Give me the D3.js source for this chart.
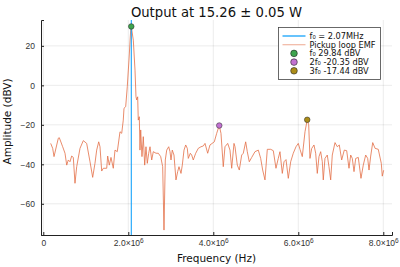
<!DOCTYPE html>
<html>
<head>
<meta charset="utf-8">
<script src="https://cdn.jsdelivr.net/npm/d3@7"></script>
<style>
  body { margin: 0; background: #fff; }
  svg { font-family: "DejaVu Sans", sans-serif; }
</style>
</head>
<body>
<div id="chart"></div>
<script>
// spectrum, frequency in MHz, amplitude in dBV
const freqMHz = [0.174, 0.221, 0.252, 0.353, 0.376, 0.456, 0.511, 0.551, 0.588, 0.628,
  0.668, 0.706, 0.746, 0.786, 0.864, 0.941, 1.021, 1.099, 1.162, 1.216,
  1.256, 1.304, 1.334, 1.374, 1.412, 1.492, 1.515, 1.553, 1.593, 1.647,
  1.687, 1.741, 1.805, 1.845, 1.882, 1.899, 1.939, 1.976, 2.016, 2.056,
  2.07, 2.118, 2.158, 2.181, 2.198, 2.221, 2.235, 2.259, 2.275, 2.292,
  2.322, 2.353, 2.386, 2.416, 2.447, 2.48, 2.511, 2.551, 2.588, 2.652,
  2.706, 2.762, 2.809, 2.84, 2.871, 2.904, 2.951, 2.981, 3.005, 3.035,
  3.075, 3.122, 3.162, 3.193, 3.24, 3.271, 3.311, 3.351, 3.388, 3.412,
  3.459, 3.492, 3.529, 3.586, 3.647, 3.711, 3.765, 3.805, 3.868, 3.922,
  4.024, 4.08, 4.14, 4.181, 4.235, 4.275, 4.339, 4.393, 4.433, 4.487,
  4.511, 4.565, 4.612, 4.668, 4.706, 4.762, 4.8, 4.847, 4.904, 4.981,
  5.059, 5.115, 5.162, 5.216, 5.271, 5.351, 5.412, 5.475, 5.529, 5.569,
  5.624, 5.664, 5.711, 5.765, 5.821, 5.882, 5.946, 6.0, 6.04, 6.094,
  6.158, 6.21, 6.245, 6.275, 6.315, 6.369, 6.409, 6.447, 6.487, 6.527,
  6.565, 6.588, 6.628, 6.682, 6.722, 6.762, 6.8, 6.864, 6.918, 6.965,
  7.021, 7.082, 7.139, 7.193, 7.233, 7.271, 7.311, 7.351, 7.412, 7.475,
  7.529, 7.586, 7.633, 7.664, 7.704, 7.751, 7.807, 7.882, 7.953, 7.976,
  8.009];
const ampDBV = [-29.4, -31.9, -36.1, -26.8, -26.5, -31.1, -34.4, -40.4, -37.8, -38.7,
  -35.8, -36.5, -49.6, -41.2, -31.9, -28, -29.4, -38.7, -46.6, -39.5,
  -32.8, -28.6, -31.1, -43.4, -42, -42, -35.8, -40.4, -36.5, -42,
  -32.8, -33.6, -23.5, -24.3, -17.6, -11.6, -10.8, -0.7, 12.8, 28,
  29.84, 22.9, 7.7, -5.8, -7.4, -5.8, -17.6, -15.9, -32.8, -22.6,
  -36.1, -26, -40.4, -31.1, -39.5, -34.4, -31.1, -37.8, -33.6, -34.4,
  -34.4, -36.1, -41.2, -73.3, -37.8, -32.8, -31.1, -33.6, -37.8, -32.8,
  -35.3, -47.9, -43.7, -41.2, -44.6, -40.4, -32.8, -30.2, -31.9, -37,
  -34.4, -35.3, -37.8, -34.4, -31.9, -31.1, -30.7, -29.4, -34.4, -30.2,
  -28.6, -24.3, -20.35, -24.3, -41.2, -31.1, -29.4, -32.8, -42, -29.4,
  -31.1, -40.4, -42.9, -35.3, -34.4, -28.6, -33.6, -38.7, -36.5, -33.6,
  -32.8, -37, -42.9, -47.9, -32.4, -32.4, -33.1, -42, -37, -33.6,
  -44.6, -38.7, -37.6, -47.1, -38.7, -34.4, -31.1, -29.4, -32.4, -36.1,
  -23.5, -17.44, -20, -37, -32, -30.2, -34.4, -44.6, -36.1, -33.6,
  -38.7, -47.9, -37, -35.3, -41.2, -47.9, -35.3, -29, -31.1, -30.2,
  -37.8, -32.8, -33.1, -42, -35.3, -37, -43.7, -37, -36.5, -47.1,
  -40.4, -35.3, -37, -42.9, -35.8, -29, -31.9, -32.4, -39.5, -46,
  -43];

const f0MHz = 2.07;
const harmFreqMHz = [2.07, 4.14, 6.21];
const harmAmp = [29.84, -20.35, -17.44];
const harmLabels = ["f₀ 29.84 dBV", "2f₀ -20.35 dBV", "3f₀ -17.44 dBV"];
const harmColors = ["#3ea44e", "#c271d2", "#ac8d18"];

const xTicks = [0, 2e6, 4e6, 6e6, 8e6];
const yTicks = [-60, -40, -20, 0, 20];

const W = 400, H = 267;
const margin = { top: 20, right: 8, bottom: 32, left: 41 };
const iw = W - margin.left - margin.right;
const ih = H - margin.top - margin.bottom;

const svg = d3.select("#chart").append("svg")
  .attr("width", W)
  .attr("height", H);

const x = d3.scaleLinear().domain([-0.054e6, 8.205e6]).range([0, iw]);
const y = d3.scaleLinear().domain([-75.8, 33.1]).range([ih, 0]);

const g = svg.append("g")
  .attr("transform", "translate(" + margin.left + "," + margin.top + ")");

// grid
g.append("g").selectAll("line").data(xTicks).enter().append("line")
  .attr("x1", d => x(d)).attr("x2", d => x(d))
  .attr("y1", 0).attr("y2", ih)
  .attr("stroke", "#000").attr("stroke-opacity", 0.08);
g.append("g").selectAll("line").data(yTicks).enter().append("line")
  .attr("x1", 0).attr("x2", iw)
  .attr("y1", d => y(d)).attr("y2", d => y(d))
  .attr("stroke", "#000").attr("stroke-opacity", 0.08);

// spectrum
const spectrum = freqMHz.map((f, i) => ({ f: f * 1e6, a: ampDBV[i] }));
g.append("path")
  .datum(spectrum)
  .attr("fill", "none")
  .attr("stroke", "#e36f47")
  .attr("stroke-opacity", 0.8)
  .attr("stroke-width", 1)
  .attr("d", d3.line().x(d => x(d.f)).y(d => y(d.a)));

// f0 marker line
g.append("line")
  .attr("x1", x(f0MHz * 1e6)).attr("x2", x(f0MHz * 1e6))
  .attr("y1", 0).attr("y2", ih)
  .attr("stroke", "#009afa").attr("stroke-width", 1);

// harmonics
g.append("g").selectAll("circle").data(harmFreqMHz).enter().append("circle")
  .attr("cx", d => x(d * 1e6))
  .attr("cy", (d, i) => y(harmAmp[i]))
  .attr("r", 2.8)
  .attr("fill", (d, i) => harmColors[i])
  .attr("stroke", "#222").attr("stroke-width", 0.5);

// axes
const xAxis = d3.axisBottom(x).tickValues(xTicks).tickSize(-3).tickFormat("");
const yAxis = d3.axisLeft(y).tickValues(yTicks).tickSize(-3).tickFormat("");
const gx = g.append("g").attr("transform", "translate(0," + ih + ")").call(xAxis);
const gy = g.append("g").call(yAxis);
[gx, gy].forEach(a => {
  a.select(".domain").attr("stroke", "#222").attr("stroke-width", 1);
  a.selectAll(".tick line").attr("stroke", "#222");
});

// tick labels
gy.selectAll(".tick").append("text")
  .attr("x", -6).attr("dy", "0.32em")
  .attr("text-anchor", "end")
  .attr("font-size", 8.5).attr("fill", "#333")
  .text(d => d < 0 ? "\u2212" + Math.abs(d) : d);

gx.selectAll(".tick").each(function(d) {
  const t = d3.select(this).append("text")
    .attr("y", 11).attr("text-anchor", "middle")
    .attr("font-size", 8.5).attr("fill", "#333");
  if (d === 0) {
    t.text("0");
  } else {
    t.append("tspan").text((d / 1e6).toFixed(1) + "×10");
    t.append("tspan").attr("dy", -3.5).attr("font-size", 6.5).text("6");
  }
});

// titles
svg.append("text")
  .attr("x", margin.left + iw / 2).attr("y", 17)
  .attr("text-anchor", "middle").attr("font-size", 13.2).attr("fill", "#111")
  .text("Output at 15.26 ± 0.05 W");
svg.append("text")
  .attr("x", margin.left + iw / 2).attr("y", 262)
  .attr("text-anchor", "middle").attr("font-size", 10.5).attr("fill", "#111")
  .text("Frequency (Hz)");
svg.append("text")
  .attr("transform", "translate(11," + (margin.top + ih / 2 - 6) + ") rotate(-90)")
  .attr("text-anchor", "middle").attr("font-size", 10.5).attr("fill", "#111")
  .text("Amplitude (dBV)");

// legend
const lg = svg.append("g").attr("transform", "translate(278.5,27.5)");
lg.append("rect")
  .attr("width", 102).attr("height", 52)
  .attr("fill", "#fff").attr("stroke", "#444").attr("stroke-width", 0.8);
const rowY = i => 8.5 + i * 8.7;
const lineEntries = [
  { label: "f₀ = 2.07MHz", color: "#009afa", opacity: 1 },
  { label: "Pickup loop EMF", color: "#e36f47", opacity: 0.5 }
];
lineEntries.forEach((e, i) => {
  lg.append("line")
    .attr("x1", 4).attr("x2", 27).attr("y1", rowY(i)).attr("y2", rowY(i))
    .attr("stroke", e.color).attr("stroke-opacity", e.opacity).attr("stroke-width", 1.2);
  lg.append("text").attr("x", 31).attr("y", rowY(i)).attr("dy", "0.35em")
    .attr("font-size", 8.2).attr("fill", "#111").text(e.label);
});
harmLabels.forEach((lab, i) => {
  lg.append("circle")
    .attr("cx", 15.5).attr("cy", rowY(i + 2)).attr("r", 3.3)
    .attr("fill", harmColors[i]).attr("stroke", "#222").attr("stroke-width", 0.6);
  lg.append("text").attr("x", 31).attr("y", rowY(i + 2)).attr("dy", "0.35em")
    .attr("font-size", 8.2).attr("fill", "#111").text(lab);
});
</script>
</body>
</html>
